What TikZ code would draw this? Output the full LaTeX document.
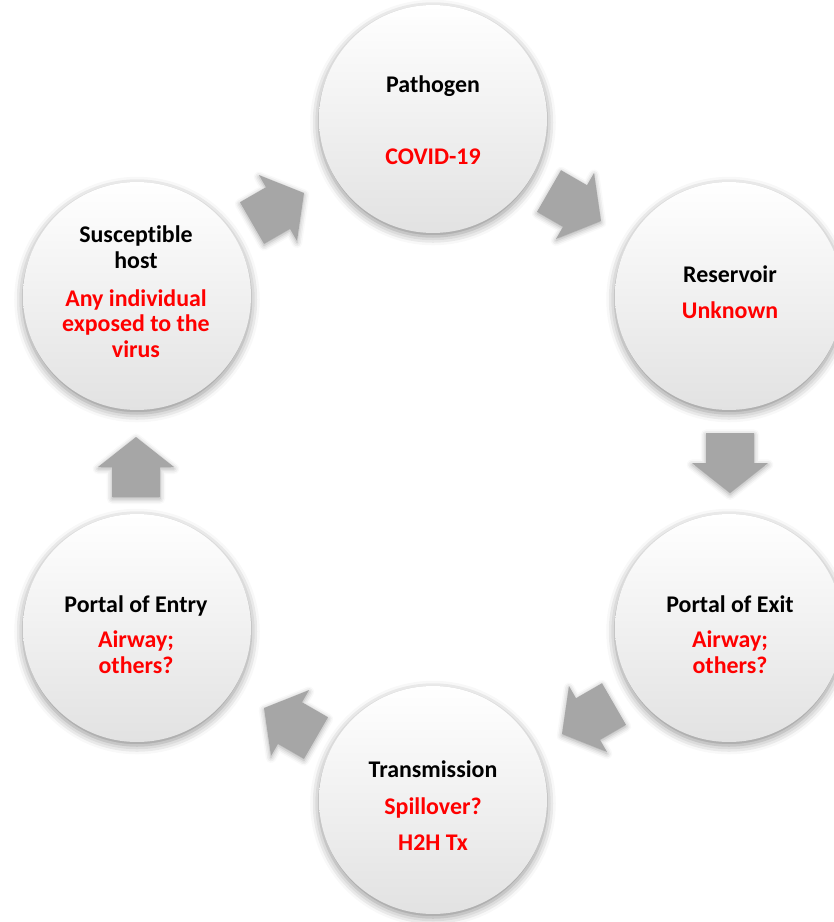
\documentclass[tikz,border=0pt]{standalone}
\usepackage{fontspec}
\setmainfont{Carlito}[Ligatures=NoCommon]
\usetikzlibrary{positioning,shadows.blur}
\definecolor{cicloRojo}{HTML}{FF0000}
\definecolor{cicloGris}{HTML}{A6A6A6}
\definecolor{cicloBase}{HTML}{E2E2E2}

\begin{document}
\begin{tikzpicture}[x=0.02cm, y=-0.02cm,
      bola/.style={circle, minimum size=4.56cm, inner sep=0pt,
                   top color=white, middle color=white, bottom color=cicloBase,
                   blur shadow={shadow xshift=0pt, shadow yshift=-2pt,
                                shadow blur radius=5pt, shadow opacity=45}},
      tit/.style={anchor=base, align=center, inner sep=0pt,
                  font=\bfseries\fontsize{13.6}{14.5}\selectfont},
      roj/.style={tit, text=cicloRojo},
      flecha/.pic={
        \fill[cicloGris, blur shadow={shadow xshift=0pt, shadow yshift=-1pt,
                                      shadow blur radius=3pt, shadow opacity=35}]
          (-24,-30) -- (24,-30) -- (24,0) -- (38,0) -- (0,30) -- (-38,0) -- (-24,0) -- cycle;
      }]
    \useasboundingbox (0,0) rectangle (834,922);

    % circles
    \node[bola] (pat)   at (433,119) {};
    \node[bola] (res)   at (729,296) {};
    \node[bola] (exit)  at (729,628) {};
    \node[bola] (trans) at (433,800) {};
    \node[bola] (entry) at (137,628) {};
    \node[bola] (host)  at (137,296) {};

    % arrows
    \pic[rotate=60]   at (575,206) {flecha};
    \pic              at (730,463) {flecha};
    \pic[rotate=-60]  at (588,719) {flecha};
    \pic[rotate=-120] at (290,723) {flecha};
    \pic[rotate=180]  at (136,467) {flecha};
    \pic[rotate=120]  at (278,208) {flecha};

    % labels (multi-line ones sit on their last baseline)
    \node[tit] (patT)   at (433,93)  {Pathogen};
    \node[roj] (patR)   at (433,165) {COVID-19};
    \node[tit] (resT)   at (730,282) {Reservoir};
    \node[roj] (resR)   at (730,318) {Unknown};
    \node[tit] (exitT)  at (730,612) {Portal of Exit};
    \node[roj] (exitR)  at (730,673) {Airway;\\others?};
    \node[tit] (transT) at (433,777) {Transmission};
    \node[roj] (transR) at (433,814) {Spillover?};
    \node[roj] (transX) at (433,850) {H2H Tx};
    \node[tit] (entryT) at (136,612) {Portal of Entry};
    \node[roj] (entryR) at (136,673) {Airway;\\others?};
    \node[tit] (hostT)  at (136,268) {Susceptible\\host};
    \node[roj] (hostR)  at (136,357) {Any individual\\exposed to the\\virus};
  \end{tikzpicture}
\end{document}
